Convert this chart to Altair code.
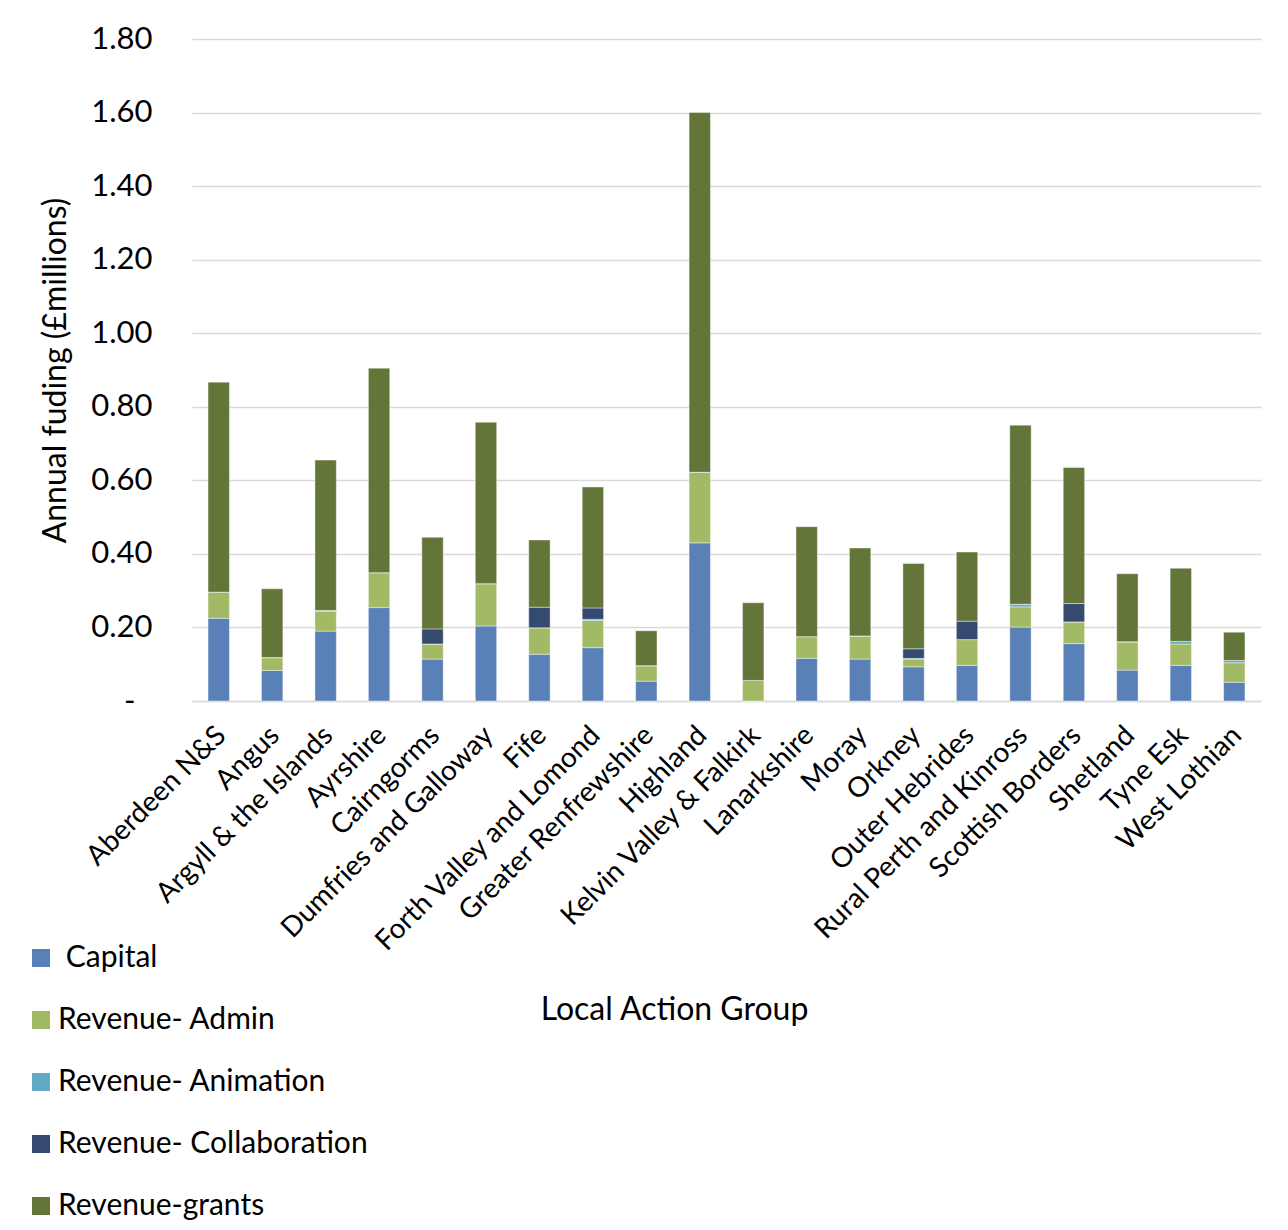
import altair as alt
import pandas as pd

groups = ["Aberdeen N&S", "Angus", "Argyll & the Islands", "Ayrshire", "Cairngorms",
          "Dumfries and Galloway", "Fife", "Forth Valley and Lomond", "Greater Renfrewshire",
          "Highland", "Kelvin Valley & Falkirk", "Lanarkshire", "Moray", "Orkney",
          "Outer Hebrides", "Rural Perth and Kinross", "Scottish Borders", "Shetland",
          "Tyne Esk", "West Lothian"]

capital       = [0.225, 0.083, 0.190, 0.254, 0.114, 0.204, 0.127, 0.145, 0.054, 0.430,
                 0.000, 0.116, 0.114, 0.093, 0.097, 0.201, 0.156, 0.084, 0.097, 0.051]
rev_admin     = [0.071, 0.035, 0.054, 0.095, 0.041, 0.115, 0.072, 0.074, 0.042, 0.192,
                 0.056, 0.059, 0.063, 0.021, 0.070, 0.055, 0.059, 0.077, 0.058, 0.053]
rev_animation = [0.000, 0.000, 0.002, 0.000, 0.000, 0.000, 0.000, 0.003, 0.000, 0.000,
                 0.000, 0.000, 0.000, 0.002, 0.000, 0.007, 0.000, 0.000, 0.007, 0.006]
rev_collab    = [0.000, 0.000, 0.000, 0.000, 0.041, 0.000, 0.056, 0.031, 0.000, 0.000,
                 0.000, 0.000, 0.000, 0.026, 0.050, 0.000, 0.050, 0.000, 0.000, 0.000]
rev_grants    = [0.571, 0.187, 0.409, 0.556, 0.249, 0.439, 0.183, 0.329, 0.095, 0.978,
                 0.211, 0.299, 0.239, 0.232, 0.188, 0.487, 0.370, 0.185, 0.199, 0.077]

series_names = ["Capital", "Revenue- Admin", "Revenue- Animation",
                "Revenue- Collaboration", "Revenue-grants"]
series_colors = ["#5A80B8", "#A2B965", "#62A9C6", "#344A6F", "#637539"]
y_ticks = [0, 0.2, 0.4, 0.6, 0.8, 1.0, 1.2, 1.4, 1.6, 1.8]

rows = []
for s_i, (name, vals) in enumerate(zip(series_names,
                                       [capital, rev_admin, rev_animation, rev_collab, rev_grants])):
    for g, v in zip(groups, vals):
        rows.append({"group": g, "series": name, "value": v, "order": s_i})
df = pd.DataFrame(rows)

FONT = "Lato"

chart = alt.Chart(df).mark_bar(stroke="white", strokeWidth=0.6, strokeOpacity=0.7).encode(
    x=alt.X("group:N", sort=groups,
            scale=alt.Scale(paddingInner=0.6, paddingOuter=0.3),
            axis=alt.Axis(title="Local Action Group", labelAngle=-45, labelAlign="right",
                          labelBaseline="middle", labelPadding=30, labelOffset=3,
                          labelFontSize=28,
                          labelFont=FONT, labelColor="black", ticks=False,
                          domainColor="#d9d9d9", domainWidth=1.5, labelLimit=500,
                          titleFont=FONT, titleFontSize=32, titleFontWeight="normal",
                          titleColor="black", titleX=482, titleY=308,
                          titleBaseline="middle")),
    y=alt.Y("value:Q", stack="zero",
            scale=alt.Scale(domain=[0, 1.8], nice=False),
            axis=alt.Axis(title="Annual fuding (£millions)", values=y_ticks,
                          labelExpr="datum.value == 0 ? '-' : format(datum.value, '.2f')",
                          labelFontSize=31, labelFont=FONT, labelColor="black",
                          labelPadding={"condition": {"test": "datum.value == 0", "value": 57},
                                        "value": 40},
                          ticks=False, domain=False,
                          gridColor="#d9d9d9", gridWidth=1.5,
                          titleFont=FONT, titleFontSize=32, titleFontWeight="normal",
                          titleColor="black", titlePadding=18)),
    color=alt.Color("series:N", sort=series_names,
                    scale=alt.Scale(domain=series_names, range=series_colors),
                    legend=alt.Legend(title=None, orient="none", legendX=-166, legendY=904,
                                      direction="vertical", symbolType="square",
                                      symbolSize=324, symbolStrokeWidth=0,
                                      labelFont=FONT, labelFontSize=30, labelColor="black",
                                      labelOffset=2, rowPadding=32, labelLimit=500,
                                      labelExpr="datum.label == 'Capital' ? '\u200b Capital' : datum.label")),
    order=alt.Order("order:Q", sort="ascending"),
).properties(
    width=1069, height=662,
    padding={"left": 18, "top": 15, "right": 5, "bottom": 5},
).configure_view(stroke=None)

chart.save("out.html", embed_options={"renderer": "svg", "actions": False})
